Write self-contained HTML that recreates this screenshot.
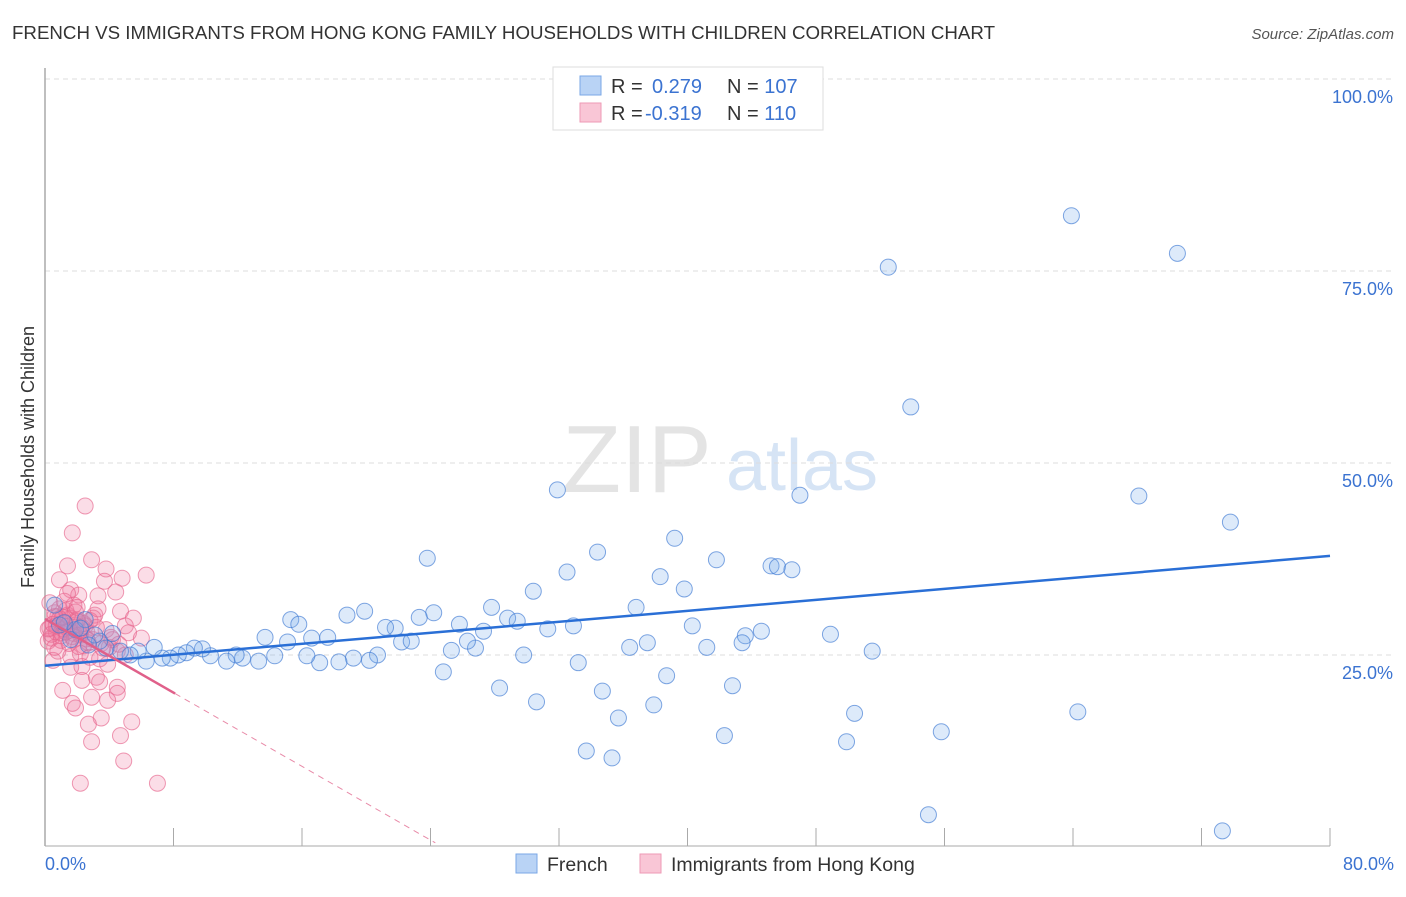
<!DOCTYPE html>
<html><head><meta charset="utf-8"><style>
body{margin:0;background:#fff;font-family:"Liberation Sans",sans-serif;}
svg text{font-family:"Liberation Sans",sans-serif;}
</style></head><body>
<svg id="chart" width="1406" height="892" viewBox="0 0 1406 892">
<text x="12" y="39" font-size="18" fill="#333" textLength="983" lengthAdjust="spacingAndGlyphs">FRENCH VS IMMIGRANTS FROM HONG KONG FAMILY HOUSEHOLDS WITH CHILDREN CORRELATION CHART</text>
<text x="1394" y="39" font-size="15" fill="#555" font-style="italic" text-anchor="end">Source: ZipAtlas.com</text>
<g>
<text x="637" y="492" font-size="96" fill="#e4e4e4" font-family="Liberation Serif,serif" text-anchor="middle">ZIP</text>
<text x="802" y="490" font-size="72" fill="#d6e4f5" text-anchor="middle">atlas</text>
</g>
<g id="grid"></g>
<line x1="45" y1="68" x2="45" y2="846" stroke="#aaa" stroke-width="1.5"/>
<line x1="45" y1="846" x2="1330" y2="846" stroke="#aaa" stroke-width="1"/>
<g id="xticks"></g>
<text transform="translate(34,457) rotate(-90)" font-size="18" fill="#333" text-anchor="middle">Family Households with Children</text>
<text x="45" y="870" font-size="18" fill="#3b73d1">0.0%</text>
<text x="1394" y="870" font-size="18" fill="#3b73d1" text-anchor="end">80.0%</text>
<g id="pts"></g>
<g id="lines"></g>
<g>
<rect x="553" y="67" width="270" height="63" fill="#fff" stroke="#ddd"/>
<rect x="580" y="76" width="21" height="19" fill="#b9d3f5" stroke="#7aa7e6"/>
<rect x="580" y="103" width="21" height="19" fill="#f9c6d6" stroke="#ee9ab5"/>
<text x="611" y="93" font-size="20" fill="#333">R = <tspan fill="#3b73d1" x="652">0.279</tspan><tspan x="727" fill="#333">N = </tspan><tspan fill="#3b73d1">107</tspan></text>
<text x="611" y="120" font-size="20" fill="#333">R = <tspan fill="#3b73d1" x="645">-0.319</tspan><tspan x="727" fill="#333">N = </tspan><tspan fill="#3b73d1"> 110</tspan></text>
</g>
<g>
<rect x="516" y="854" width="21" height="19" fill="#b9d3f5" stroke="#7aa7e6"/>
<text x="547" y="871" font-size="19.5" fill="#333">French</text>
<rect x="640" y="854" width="21" height="19" fill="#f9c6d6" stroke="#ee9ab5"/>
<text x="671" y="871" font-size="19.5" fill="#333">Immigrants from Hong Kong</text>
</g>
</svg>
<script>
const yTicks=[25,50,75,100];
const yTickLabels=["25.0%","50.0%","75.0%","100.0%"];
const xTicks=[8,16,24,32,40,48,56,64,72,80];
const blueX=[63.9,70.5,52.5,53.9,31.9,47.0,68.1,73.8,39.2,23.8,34.4,41.8,45.2,45.6,46.5,32.5,38.3,30.4,39.8,36.8,27.8,24.2,19.9,18.8,15.3,28.8,29.4,23.3,15.8,25.8,21.8,27.3,32.9,31.3,40.3,44.6,48.9,43.6,43.4,37.5,36.4,41.2,51.5,13.7,16.6,17.6,15.1,22.2,22.8,21.2,25.3,26.8,26.3,29.8,20.7,19.2,20.2,17.1,18.3,16.3,14.3,13.3,12.3,11.9,11.3,10.3,9.8,9.3,8.8,8.3,7.8,7.3,6.3,6.8,5.8,5.3,4.7,3.8,3.4,33.2,24.8,38.7,28.3,34.7,42.8,30.6,37.9,35.7,50.4,64.3,55.8,42.3,49.9,33.7,35.3,55.0,73.3,0.6,0.9,1.9,2.5,3.1,1.6,2.7,4.2,2.2,1.2];
const blueY=[82.2,77.3,75.5,57.3,46.5,45.8,45.7,42.3,40.2,37.6,38.4,37.4,36.6,36.5,36.1,35.8,35.2,33.3,33.6,31.2,31.2,30.5,30.7,30.2,29.6,29.8,29.4,29.9,29.0,29.0,28.5,28.1,28.8,28.4,28.8,28.1,27.7,27.5,26.6,26.6,26.0,26.0,25.5,27.3,27.2,27.3,26.7,26.7,26.8,28.6,25.6,25.9,26.8,25.0,25.0,24.6,24.3,24.0,24.1,24.9,24.9,24.2,24.6,25.0,24.2,24.9,25.8,25.9,25.3,25.0,24.6,24.6,24.2,26.0,25.5,25.0,25.5,25.9,26.8,24.0,22.8,22.3,20.7,20.3,21.0,18.9,18.5,16.8,17.4,17.6,15.0,14.5,13.7,12.5,11.6,4.2,2.1,31.5,28.9,28.3,29.6,27.6,27.0,26.3,27.8,28.5,29.2];
const pinkX=[2.5,1.7,1.4,2.9,3.8,3.7,4.8,6.3,0.9,1.6,3.3,4.4,2.1,3.1,4.7,5.5,5.0,0.5,1.6,2.3,3.2,3.4,4.5,4.5,3.9,2.9,1.1,1.7,1.9,3.5,5.4,2.7,4.7,2.9,4.9,2.2,7.0,2.6,3.0,3.5,4.0,4.5,5.0,4.2,3.8,2.8,0.3,0.5,0.7,0.8,1.0,1.2,1.3,1.5,1.6,1.8,1.9,2.0,2.1,2.2,2.3,2.4,0.4,0.6,0.9,1.1,1.4,1.7,2.0,2.5,0.2,0.6,1.0,1.3,1.8,2.6,3.2,3.6,0.8,1.5,2.4,0.3,1.2,1.9,3.0,0.5,1.0,2.2,2.8,4.1,3.4,1.6,0.7,2.0,1.4,0.9,2.7,3.9,5.2,0.4,1.1,1.8,2.3,4.6,6.0,0.6,3.3,1.3,2.1,0.2];
const pinkY=[44.4,40.9,36.6,37.4,36.2,34.6,35.0,35.4,34.8,33.5,32.7,33.2,32.8,30.2,30.7,29.8,28.8,24.3,23.4,21.7,22.1,21.5,20.8,20.0,19.1,19.5,20.4,18.7,18.1,16.8,16.3,16.0,14.5,13.7,11.2,8.3,8.3,28.0,27.0,26.5,26.0,25.5,25.0,27.0,28.3,29.5,28.5,29.0,28.0,30.0,27.5,29.3,28.7,28.2,29.8,27.8,28.9,29.4,28.1,27.6,28.6,29.1,27.2,30.5,31.0,28.4,30.2,27.4,29.6,28.8,26.8,26.0,27.9,30.8,31.5,27.1,28.6,25.9,25.5,26.5,26.2,31.8,32.0,30.6,29.8,29.0,26.9,25.2,24.7,27.3,24.5,24.8,28.8,31.2,33.0,29.7,26.6,23.8,27.9,27.7,29.9,27.0,23.5,26.4,27.2,30.0,31.0,28.0,26.1,28.4];
const blueLine=[23.6,37.9];
const pinkLine=[29.7,-1.2];
const X=v=>45+v/80*1285, Y=v=>847-v/25*192;
const NS="http://www.w3.org/2000/svg";
function mk(t,a,p){const e=document.createElementNS(NS,t);for(const k in a)e.setAttribute(k,a[k]);p.appendChild(e);return e;}
const grid=document.getElementById('grid');
yTicks.forEach((t,i)=>{
 const l=mk('line',{x1:45,x2:1394,y1:Y(t),y2:Y(t),stroke:'#ddd','stroke-dasharray':'5,4'},grid);
 
 
 const tx=mk('text',{x:1393,y:Y(t)+24,'font-size':18,fill:'#3b73d1','text-anchor':'end'},grid);
 tx.textContent=yTickLabels[i];
 
 
});
const xt=document.getElementById('xticks');
xTicks.forEach(t=>{
 const l=mk('line',{x1:X(t),x2:X(t),y1:828,y2:846,stroke:'#aaa'},xt);
 
 
});
const pts=document.getElementById('pts');
pinkX.forEach((x,i)=>{
 const c=mk('circle',{cx:X(x),cy:Y(pinkY[i]),r:8,fill:'rgba(240,120,160,0.25)',stroke:'rgba(230,100,140,0.65)','stroke-width':1},pts);
 
 
});
blueX.forEach((x,i)=>{
 const c=mk('circle',{cx:X(x),cy:Y(blueY[i]),r:8,fill:'rgba(120,170,235,0.25)',stroke:'rgba(60,120,210,0.65)','stroke-width':1},pts);
 
 
});
const ln=document.getElementById('lines');
const bl=mk('line',{x1:X(0),y1:Y(blueLine[0]),x2:X(80),y2:Y(blueLine[1]),stroke:'#2a6fd6','stroke-width':2.5},ln);


const pl=mk('line',{x1:X(0),y1:Y(pinkLine[0]),x2:X(8.1),y2:Y(pinkLine[0]+pinkLine[1]*8.1),stroke:'#e0608a','stroke-width':2.5},ln);


const pd=mk('line',{x1:X(8.1),y1:Y(pinkLine[0]+pinkLine[1]*8.1),x2:X(24.3),y2:Y(pinkLine[0]+pinkLine[1]*24.3),stroke:'#e88aa8','stroke-width':1,'stroke-dasharray':'6,5'},ln);


</script>
</body></html>
